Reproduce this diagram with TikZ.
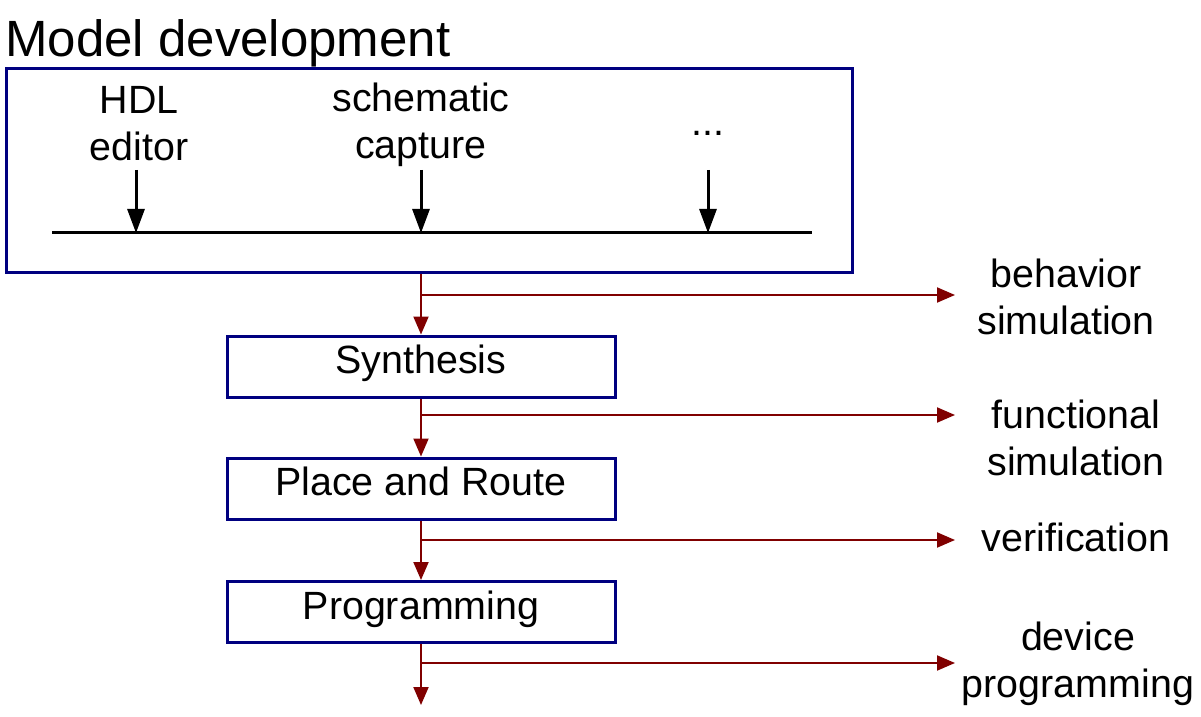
\documentclass[tikz,border=0pt]{standalone}
\usepackage{fontspec}
\setmainfont{Liberation Sans}
\usetikzlibrary{arrows.meta}
\definecolor{navy}{RGB}{0,0,128}
\definecolor{darkred}{RGB}{128,0,0}

\begin{document}
\begin{tikzpicture}[x=0.5pt,y=-0.5pt,
  blk/.style={draw=navy, line width=1.5pt, minimum width=194pt, minimum height=30.5pt, inner sep=0pt, text height=14pt, text depth=7pt},
  lbl/.style={align=center, inner sep=0pt, font=\fontsize{19.7}{23.5}\selectfont},
  flow/.style={draw=darkred, line width=1pt, -{Triangle[length=9pt,width=7.5pt]}},
  tool/.style={line width=1.5pt, -{Triangle[length=12pt,width=8.5pt]}}]
\useasboundingbox (0,0) rectangle (1201,717);
% model development
\node[anchor=base west, inner sep=0pt, font=\fontsize{25.5}{30}\selectfont] (title) at (5,57) {Model development};
\node[draw=navy, line width=1.5pt, minimum width=423pt, minimum height=102pt, inner sep=0pt] (dev) at (429,171) {};
\coordinate (busL) at (52,233);
\coordinate (busR) at (812,233);
\draw[line width=1.5pt] (busL) -- (busR);
\node[lbl] (hdl) at (139,124) {HDL\\editor};
\node[lbl] (sch) at (421,125) {schematic\\capture};
\node[lbl, anchor=base] (more) at (708,136) {...};
\coordinate (hdlT) at (136,170);
\coordinate (schT) at (421,170);
\coordinate (moreT) at (708,170);
\draw[tool] (hdlT) -- (hdlT |- busL);
\draw[tool] (schT) -- (schT |- busL);
\draw[tool] (moreT) -- (moreT |- busL);
% flow
\node[blk, lbl] (syn) at (421,366.5) {Synthesis};
\node[blk, lbl] (par) at (421,488.5) {Place and Route};
\node[blk, lbl] (prg) at (421,612) {Programming};
\coordinate (end) at (421,705);
\draw[flow] (dev.south -| syn) -- (syn.north);
\draw[flow] (syn) -- (par.north);
\draw[flow] (par) -- (prg.north);
\draw[flow] (prg) -- (end);
% outputs
\node[lbl] (beh) at (1066,297) {behavior\\simulation};
\node[lbl] (fun) at (1076,438) {functional\\simulation};
\node[lbl] (ver) at (1076,537) {verification};
\node[lbl] (dvp) at (1078,664) {device\\programming};
\coordinate (b1) at (421,295);
\coordinate (b2) at (421,415);
\coordinate (b3) at (421,540);
\coordinate (b4) at (421,663);
\draw[flow] (b1) -- (955,295);
\draw[flow] (b2) -- (955,415);
\draw[flow] (b3) -- (955,540);
\draw[flow] (b4) -- (955,663);
\end{tikzpicture}
\end{document}
